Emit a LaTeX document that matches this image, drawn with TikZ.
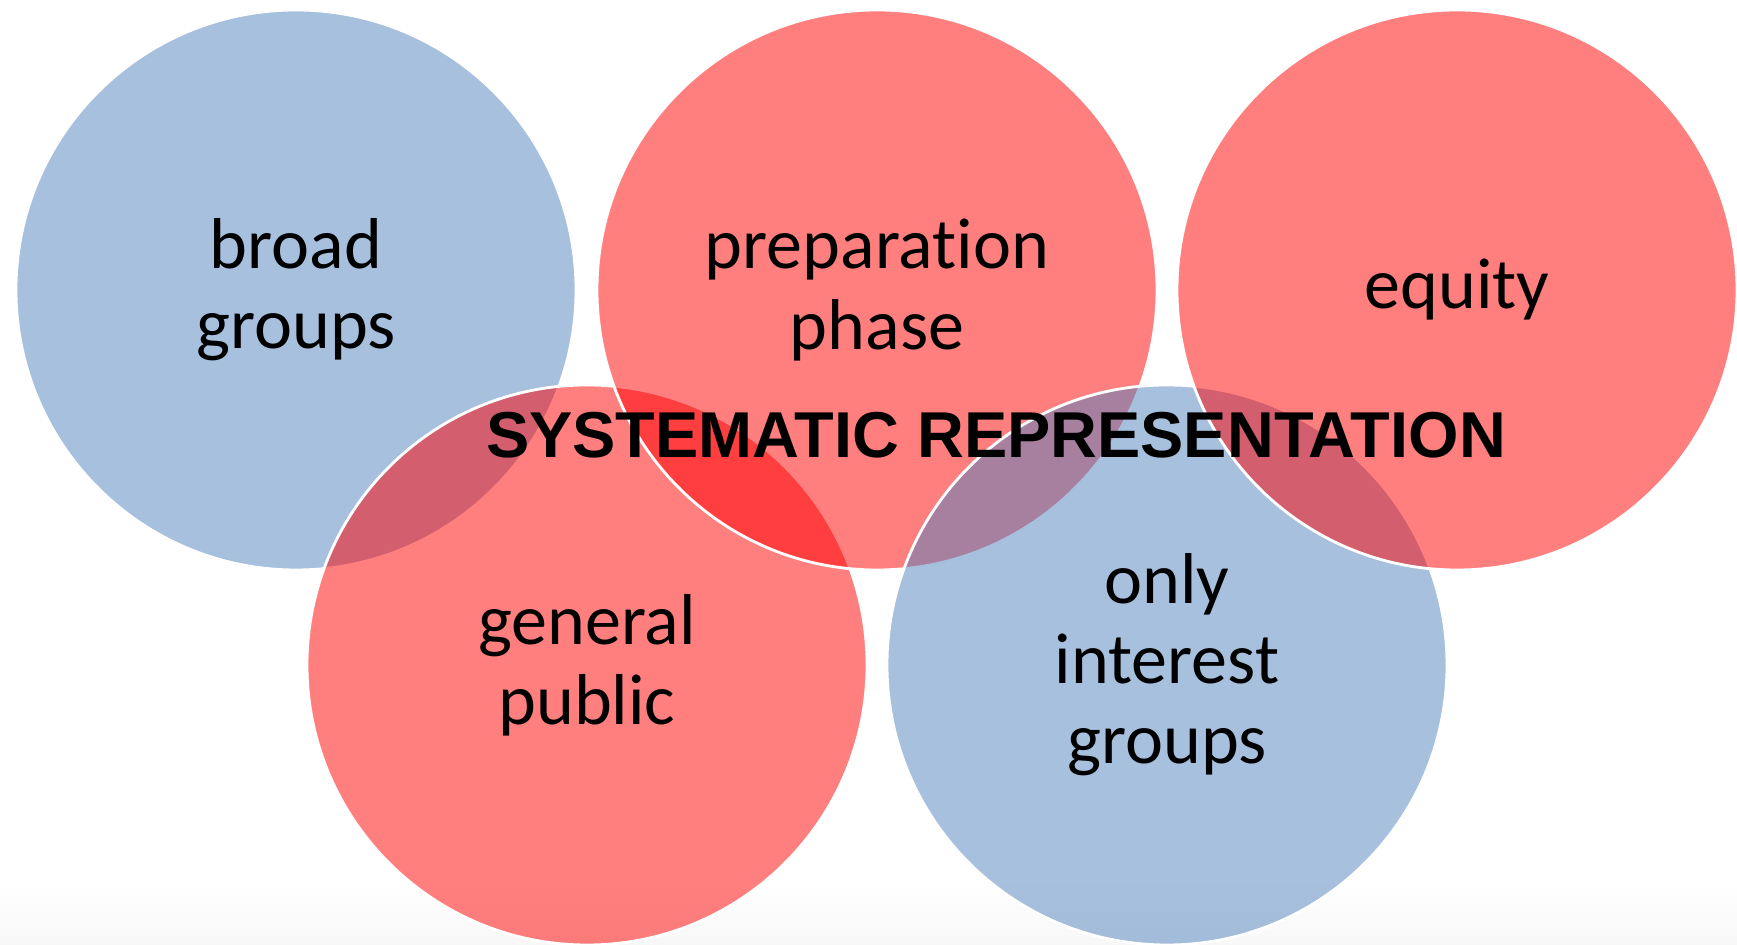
\documentclass[tikz,border=0pt]{standalone}
\usepackage{fontspec}
\setmainfont{Carlito}[Ligatures=NoCommon]
\newfontfamily\titlefont{Liberation Sans}
\definecolor{vennred}{HTML}{FF0000}
\definecolor{vennblue}{HTML}{4F81BD}
\begin{document}
\begin{tikzpicture}[
  venn/.style={circle, minimum size=5.6cm, inner sep=0pt, fill opacity=.5, text opacity=1,
    draw=white, line width=0.8pt, align=center, font=\fontsize{20.5}{22.8}\selectfont},
  vred/.style={venn, fill=vennred},
  vblue/.style={venn, fill=vennblue}]
\clip (0,0) rectangle (17.37,-9.45);
\shade[top color=white, bottom color=gray!6] (0,-8.85) rectangle (17.37,-9.45);
\node[vblue] (broad) at (2.96,-2.90){broad\\groups};
\node[vred] (general) at (5.87,-6.65){general\\public};
\node[vred] (prep) at (8.77,-2.90){preparation\\phase};
\node[vblue] (only) at (11.67,-6.65){only\\interest\\groups};
\node[vred] (equity) at (14.57,-2.90){equity};
\node[anchor=base, inner sep=0pt, font=\titlefont\bfseries\fontsize{18.45}{20}\selectfont] (title) at (9.96,-4.58){SYSTEMATIC REPRESENTATION};
\end{tikzpicture}
\end{document}
